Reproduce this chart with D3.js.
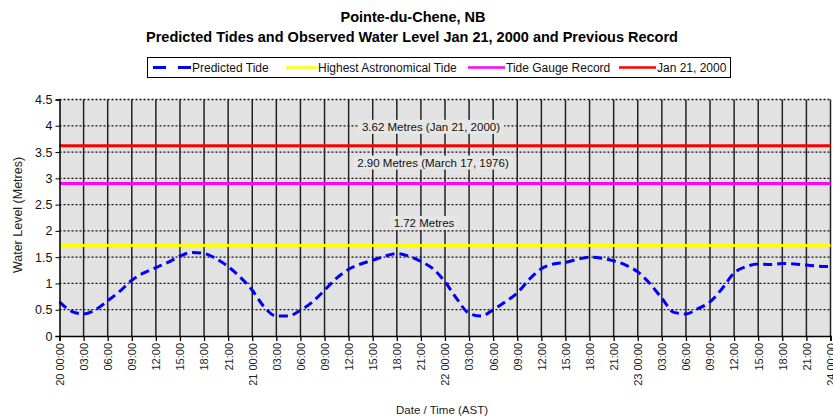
<!DOCTYPE html>
<html><head><meta charset="utf-8">
<script src="https://cdn.jsdelivr.net/npm/d3@7"></script>
<style>body{margin:0;background:#fff;} text{font-family:"Liberation Sans",Arial,sans-serif;}</style>
</head><body>
<svg id="c" width="833" height="420"></svg>
<script>
// ---- data ----
const hours = [0,4.5,9,13.5,18,22.5,27,31.5,36,40.5,45,49.5,54,58.5,63,67.5,72,76.5,81,85.5,90,94.5,
  1.5,3,6,7.5,10.5,12,15,16.5,19.5,21,24,25.5,28.5,30,33,34.5,37.5,39,42,43.5,46.5,48,51,52.5,55.5,57,60,61.5,64.5,66,69,70.5,73.5,75,78,79.5,82.5,84,87,88.5,91.5,93,96].sort((a,b)=>a-b);
const tideValues = [0.65,0.47,0.42,0.50,0.67,0.85,1.06,1.20,1.30,1.40,1.52,1.59,1.57,1.47,1.32,1.12,0.87,0.55,0.38,0.38,
  0.49,0.65,0.87,1.10,1.27,1.37,1.44,1.52,1.57,1.52,1.42,1.28,1.03,0.70,0.43,0.38,0.50,0.65,0.82,1.08,
  1.28,1.37,1.40,1.46,1.50,1.48,1.43,1.35,1.22,1.00,0.72,0.45,0.42,0.52,0.65,0.90,1.20,1.32,1.37,1.36,
  1.38,1.37,1.35,1.33,1.32];
const tickHours = d3.range(0, 97, 3);
const tickLabels = ["20 00:00","03:00","06:00","09:00","12:00","15:00","18:00","21:00",
  "21 00:00","03:00","06:00","09:00","12:00","15:00","18:00","21:00",
  "22 00:00","03:00","06:00","09:00","12:00","15:00","18:00","21:00",
  "23 00:00","03:00","06:00","09:00","12:00","15:00","18:00","21:00","24 00:00"];
const yTicks = [0,0.5,1,1.5,2,2.5,3,3.5,4,4.5];
const refNames = ["Highest Astronomical Tide","Tide Gauge Record","Jan 21, 2000"];
const refValues = [1.72, 2.90, 3.62];
const refColors = ["#ffff00","#ff00ff","#ff0000"];
const refLabels = ["1.72 Metres","2.90 Metres (March 17, 1976)","3.62 Metres (Jan 21, 2000)"];
const seriesName = "Predicted Tide";
const title1 = "Pointe-du-Chene, NB";
const title2 = "Predicted Tides and Observed Water Level Jan 21, 2000 and Previous Record";

// ---- chart ----
const svg = d3.select("#c");
const L = 59.5, R = 830.5, T = 99.5, B = 336;
const x = d3.scaleLinear().domain([0,96]).range([L,R]);
const y = d3.scaleLinear().domain([0,4.5]).range([B,T]);

svg.append("rect").attr("x",L).attr("y",T).attr("width",R-L).attr("height",B-T).attr("fill","#e2e2e2");

// horizontal dotted grid
svg.append("g").selectAll("line").data(yTicks.filter(d=>d>0)).join("line")
  .attr("x1",L).attr("x2",R).attr("y1",d=>y(d)).attr("y2",d=>y(d))
  .attr("stroke","#111").attr("stroke-width",1.3).attr("stroke-dasharray","2,2");
// vertical solid grid
svg.append("g").selectAll("line").data(tickHours.filter(d=>d>0)).join("line")
  .attr("x1",d=>x(d)).attr("x2",d=>x(d)).attr("y1",T).attr("y2",B)
  .attr("stroke","#222").attr("stroke-width",1.5);

// reference lines
svg.append("g").selectAll("line").data(refValues).join("line")
  .attr("x1",L).attr("x2",R).attr("y1",d=>y(d)).attr("y2",d=>y(d))
  .attr("stroke",(d,i)=>refColors[i]).attr("stroke-width",3);

// annotation labels
const annY = [2.15, 3.3, 3.98];
const annX = [424, 433, 431];
const ann = svg.append("g");
refLabels.forEach((t,i)=>{
  const g = ann.append("g");
  const tx = g.append("text").attr("x",annX[i]).attr("y",y(annY[i])+4).attr("text-anchor","middle")
    .attr("font-size",11.5).attr("fill","#111").text(t);
  const bb = tx.node().getBBox();
  g.insert("rect","text").attr("x",bb.x-4).attr("y",bb.y-1).attr("width",bb.width+8).attr("height",bb.height+2).attr("fill","#e6e6e6");
});

// tide line
const line = d3.line().x((d,i)=>x(hours[i])).y(d=>y(d)).curve(d3.curveMonotoneX);
svg.append("path").datum(tideValues).attr("d",line).attr("fill","none")
  .attr("stroke","#0000ff").attr("stroke-width",3).attr("stroke-dasharray","9,5");

// axes
const yAxis = d3.axisLeft(y).tickValues(yTicks).tickSize(4).tickFormat(d3.format("~g"));
const gy = svg.append("g").attr("transform",`translate(${L},0)`).call(yAxis);
gy.select(".domain").attr("stroke","#000").attr("stroke-width",1.5);
gy.selectAll(".tick line").attr("stroke","#000");
gy.selectAll("text").attr("font-size",12.5).attr("fill","#111").attr("font-family","Liberation Sans, Arial");

const xAxis = d3.axisBottom(x).tickValues(tickHours).tickSize(5).tickFormat((d,i)=>tickLabels[i]);
const gx = svg.append("g").attr("transform",`translate(0,${B})`).call(xAxis);
gx.select(".domain").attr("stroke","#000").attr("stroke-width",1.5);
gx.selectAll(".tick line").attr("stroke","#000").attr("stroke-width",1.3);
gx.selectAll("text").attr("font-size",11).attr("fill","#222").attr("font-family","Liberation Sans, Arial")
  .attr("transform","rotate(-90)").attr("text-anchor","end").attr("x",-7).attr("y",0).attr("dy","0.35em");

// titles
svg.append("text").attr("x",413).attr("y",22).attr("text-anchor","middle").attr("font-size",14.5).attr("font-weight","bold").text(title1);
svg.append("text").attr("x",412).attr("y",42).attr("text-anchor","middle").attr("font-size",14.5).attr("font-weight","bold").text(title2);
svg.append("text").attr("transform","translate(22,215) rotate(-90)").attr("text-anchor","middle").attr("font-size",12.5).attr("fill","#222").text("Water Level (Metres)");
svg.append("text").attr("x",442).attr("y",414).attr("text-anchor","middle").attr("font-size",11.5).attr("fill","#222").text("Date / Time (AST)");

// legend
const lg = svg.append("g");
lg.append("rect").attr("x",147.5).attr("y",57.5).attr("width",583).attr("height",20).attr("fill","#fff").attr("stroke","#000");
const legNames = [seriesName].concat(refNames);
const legColors = ["#0000ff"].concat(refColors);
const legX = [153, 286, 468, 619];
const legW = [38, 31, 37, 37];
legNames.forEach((n,i)=>{
  lg.append("line").attr("x1",legX[i]).attr("x2",legX[i]+legW[i]).attr("y1",67.5).attr("y2",67.5)
    .attr("stroke",legColors[i]).attr("stroke-width",i===0?3:2.5).attr("stroke-dasharray",i===0?"13,12":null);
  lg.append("text").attr("x",legX[i]+legW[i]+1).attr("y",72).attr("font-size",12).attr("fill","#111").text(n);
});
</script>
</body></html>
